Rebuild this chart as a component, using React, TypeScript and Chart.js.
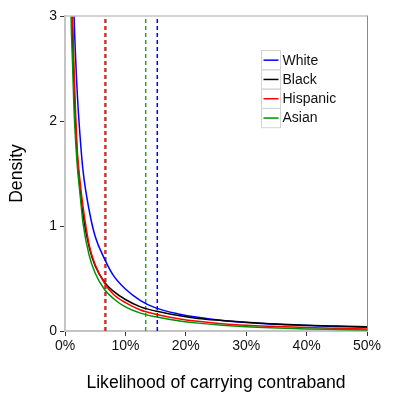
import React, { useEffect, useRef } from "react";
import { Chart, registerables } from "chart.js";

Chart.register(...registerables);

const groups = ["White", "Black", "Hispanic", "Asian"];
const groupColors = ["#0000ff", "#000000", "#ff0000", "#009000"];
const dashColors = ["#0000ff", "#444444", "#ff3030", "#30a030"];

// Likelihood of carrying contraband (%)
const likelihood = [0.7, 1, 1.25, 1.5, 2, 2.5, 3, 4, 5, 6.6, 8, 10, 12.5, 15, 19, 22, 26, 30, 34, 40, 45, 50];
const whiteDensity = [6.5, 4.6, 3.6, 3.0, 2.3, 1.85, 1.52, 1.15, 0.9, 0.68, 0.53, 0.4, 0.29, 0.22, 0.16, 0.13, 0.1, 0.08, 0.066, 0.052, 0.043, 0.036];
const blackDensity = [5.0, 3.5, 2.8, 2.3, 1.7, 1.35, 1.1, 0.8, 0.62, 0.46, 0.38, 0.3, 0.23, 0.19, 0.145, 0.12, 0.1, 0.083, 0.07, 0.055, 0.047, 0.04];
const hispanicDensity = [5.2, 3.6, 3.0, 2.5, 1.75, 1.42, 1.18, 0.82, 0.63, 0.45, 0.35, 0.27, 0.2, 0.16, 0.115, 0.092, 0.07, 0.055, 0.045, 0.033, 0.026, 0.02];
const asianDensity = [4.2, 3.0, 2.55, 2.1, 1.6, 1.3, 1.02, 0.72, 0.55, 0.39, 0.31, 0.23, 0.17, 0.135, 0.095, 0.075, 0.055, 0.04, 0.03, 0.02, 0.015, 0.01];
const densities = [whiteDensity, blackDensity, hispanicDensity, asianDensity];

// Average likelihood (dashed vertical lines), %
const meanLikelihood = [15.28, 6.75, 6.6, 13.36];

const xTickValues = [0, 10, 20, 30, 40, 50];
const yTickValues = [0, 1, 2, 3];
const xTitle = "Likelihood of carrying contraband";
const yTitle = "Density";

const FONT = "'Liberation Sans', Arial, sans-serif";

const extrasPlugin = {
  id: "extras",
  afterDraw(chart: any) {
    const { ctx, chartArea: a } = chart;
    ctx.save();
    // top & right frame
    ctx.strokeStyle = "#c4c4c4";
    ctx.lineWidth = 1.5;
    ctx.beginPath();
    ctx.moveTo(a.left, a.top);
    ctx.lineTo(a.right, a.top);
    ctx.stroke();
    ctx.strokeStyle = "#8a8a8a";
    ctx.lineWidth = 1;
    ctx.beginPath();
    ctx.moveTo(a.right + 0.5, a.top - 0.5);
    ctx.lineTo(a.right + 0.5, a.bottom);
    ctx.stroke();

    // legend
    const lx = 261.5;
    const ly = 50.5;
    const cw = 19;
    const ch = 19.3;
    groups.forEach((g, i) => {
      const top = ly + i * ch;
      ctx.strokeStyle = "#d4d4d4";
      ctx.lineWidth = 1;
      ctx.strokeRect(lx, top, cw, ch);
      ctx.strokeStyle = groupColors[i];
      ctx.lineWidth = 1.5;
      ctx.beginPath();
      ctx.moveTo(lx + 2, top + ch / 2);
      ctx.lineTo(lx + cw - 2, top + ch / 2);
      ctx.stroke();
      ctx.fillStyle = "#111";
      ctx.font = `14px ${FONT}`;
      ctx.textAlign = "left";
      ctx.textBaseline = "middle";
      ctx.fillText(g, lx + cw + 2, top + ch / 2 + 0.5);
    });

    // axis titles
    ctx.fillStyle = "#000";
    ctx.font = `17.6px ${FONT}`;
    ctx.textAlign = "center";
    ctx.textBaseline = "middle";
    ctx.fillText(xTitle, (a.left + a.right) / 2, 383);
    ctx.translate(17, (a.top + a.bottom) / 2);
    ctx.rotate(-Math.PI / 2);
    ctx.fillText(yTitle, 0, 0);
    ctx.restore();
  },
};

export default function App() {
  const ref = useRef<HTMLCanvasElement | null>(null);
  useEffect(() => {
    if (!ref.current) return;
    const curveSets = groups.map((g, i) => ({
      label: g,
      data: likelihood.map((x, j) => ({ x, y: densities[i][j] })),
      borderColor: groupColors[i],
      borderWidth: 1.5,
      pointRadius: 0,
      fill: false,
      cubicInterpolationMode: "monotone" as const,
      order: 10 - i,
      clip: 0,
    }));
    const meanSets = groups.map((g, i) => ({
      label: g + " mean",
      data: [
        { x: meanLikelihood[i], y: 0 },
        { x: meanLikelihood[i], y: 3 },
      ],
      borderColor: dashColors[i],
      borderWidth: 1.5,
      borderDash: [4, 3],
      pointRadius: 0,
      fill: false,
      order: 20 - i,
      clip: 0,
    }));
    const chart = new Chart(ref.current, {
      type: "line",
      data: { datasets: [...meanSets, ...curveSets] as any },
      options: {
        animation: false,
        responsive: false,
        maintainAspectRatio: false,
        layout: { padding: { top: 16, right: 32, left: 0, bottom: 0 } },
        plugins: { legend: { display: false }, tooltip: { enabled: false } },
        scales: {
          x: {
            type: "linear",
            min: 0,
            max: 50,
            afterBuildTicks: (s: any) => {
              s.ticks = xTickValues.map((v) => ({ value: v }));
            },
            afterFit: (s: any) => {
              s.height = 68;
            },
            ticks: {
              callback: (v: any) => v + "%",
              color: "#111",
              font: { size: 14, family: FONT },
              padding: 2,
              maxRotation: 0,
            },
            grid: { drawOnChartArea: false, drawTicks: true, tickLength: 5, color: "#333" },
            border: { display: true, color: "#c4c4c4", width: 2 },
          },
          y: {
            type: "linear",
            min: 0,
            max: 3,
            afterBuildTicks: (s: any) => {
              s.ticks = yTickValues.map((v) => ({ value: v }));
            },
            afterFit: (s: any) => {
              s.width = 65;
            },
            ticks: {
              color: "#111",
              font: { size: 14, family: FONT },
              padding: 3,
            },
            grid: { drawOnChartArea: false, drawTicks: true, tickLength: 5, color: "#333" },
            border: { display: true, color: "#c4c4c4", width: 2 },
          },
        },
      },
      plugins: [extrasPlugin],
    });
    return () => chart.destroy();
  }, []);
  return (
    <div style={{ position: "fixed", left: 0, top: 0, width: 399, height: 399, background: "#fff" }}>
      <canvas ref={ref} width={399} height={399} style={{ width: 399, height: 399 }} />
    </div>
  );
}
